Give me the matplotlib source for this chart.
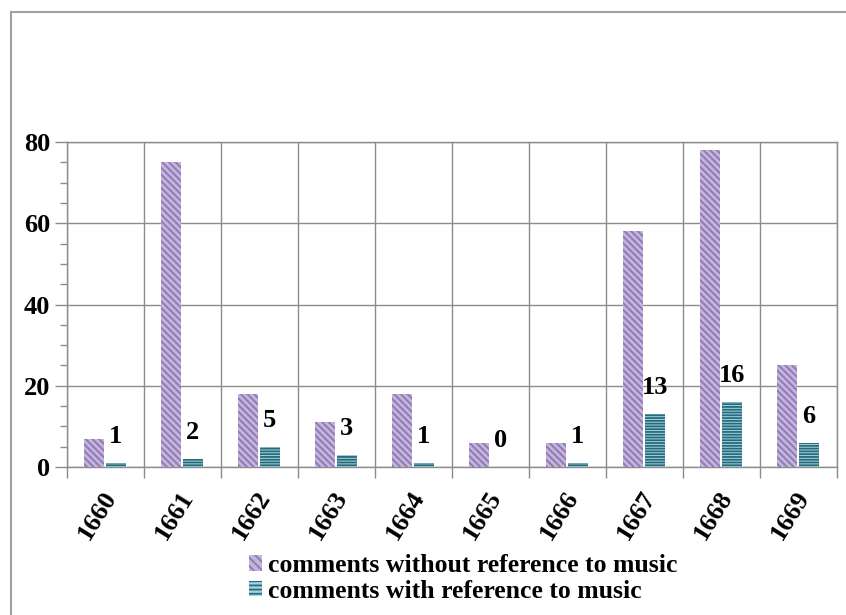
import matplotlib
matplotlib.use("Agg")
import matplotlib.pyplot as plt
from matplotlib.patches import Patch
from matplotlib.lines import Line2D
import matplotlib.transforms as mtrans
import numpy as np

years = ["1660", "1661", "1662", "1663", "1664", "1665", "1666", "1667", "1668", "1669"]
without_music = [7, 75, 18, 11, 18, 6, 6, 58, 78, 25]
with_music = [1, 2, 5, 3, 1, 0, 1, 13, 16, 6]
legend_labels = ["comments without reference to music", "comments with reference to music"]

plt.rcParams['font.family'] = ['Liberation Serif', 'DejaVu Serif']
plt.rcParams['font.weight'] = 'bold'
plt.rcParams['hatch.linewidth'] = 1.3

W, H = 846, 615
fig = plt.figure(figsize=(W / 100, H / 100), dpi=100)
# plot area: x 67..837, y 142..467 (pixels from top)
ax = fig.add_axes([67 / W, 1 - 467 / H, (837 - 67) / W, (467 - 142) / H])

x = np.arange(len(years))
purple_face = "#c4b3db"
purple_hatch = "#8d78b3"
teal_face = "#a9d3de"
teal_hatch = "#256b7e"
bw = 0.26
FS = 19

ax.bar(x - 0.155, without_music, width=bw, color=purple_face, edgecolor=purple_hatch,
       hatch="\\\\\\\\\\", linewidth=0, zorder=3)
ax.bar(x + 0.135, with_music, width=bw, color=teal_face, edgecolor=teal_hatch,
       hatch="------", linewidth=0, zorder=3)

for xi, v in zip(x, with_music):
    ax.annotate(str(v), (xi + 0.135, v), xytext=(0, 19), textcoords="offset points",
                ha="center", va="center", fontsize=FS, fontweight="bold", color="black")

ax.set_xlim(-0.5, len(years) - 0.5)
ax.set_ylim(0, 80)

grid_c = "#8c8c8c"
ax.set_yticks([0, 20, 40, 60, 80])
ax.set_yticks(np.arange(0, 81, 5), minor=True)
ax.set_yticklabels(["0", "20", "40", "60", "80"], fontsize=FS, fontweight="bold")
ax.tick_params(axis="y", which="major", length=9, color=grid_c, width=1, pad=3)
ax.tick_params(axis="y", which="minor", length=5, color=grid_c, width=1)
ax.yaxis.grid(True, which="major", color=grid_c, linewidth=1, zorder=0)

ax.set_xticks(np.arange(-0.5, len(years), 1.0))
ax.set_xticklabels([])
ax.set_xticks(x, minor=True)
ax.set_xticklabels(years, minor=True, rotation=58, ha="right", va="top",
                   rotation_mode="anchor", fontsize=FS, fontweight="bold")
ax.tick_params(axis="x", which="major", length=8, color=grid_c, width=1)
ax.tick_params(axis="x", which="minor", length=0, pad=14)
ax.xaxis.grid(True, which="major", color=grid_c, linewidth=1, zorder=0)
ax.set_axisbelow(True)

for s in ax.spines.values():
    s.set_color(grid_c)
    s.set_linewidth(1)

offset = mtrans.ScaledTranslation(-4 / 100, 0, fig.dpi_scale_trans)
for lbl in ax.get_xticklabels(minor=True):
    lbl.set_transform(lbl.get_transform() + offset)

handles = [Patch(facecolor=purple_face, edgecolor=purple_hatch, hatch="\\\\\\\\", linewidth=0),
           Patch(facecolor=teal_face, edgecolor=teal_hatch, hatch="----", linewidth=0)]
fig.legend(handles, legend_labels, loc="upper left", bbox_to_anchor=(249 / W, 1 - 554 / H),
           frameon=False, prop={"weight": "bold", "size": 18.5},
           handlelength=0.5, handleheight=0.55, handletextpad=0.25, labelspacing=0.1,
           borderpad=0, borderaxespad=0)

# outer border (left and top edges)
fig.add_artist(Line2D([11 / W, 11 / W], [0, 1 - 12 / H], transform=fig.transFigure,
                      color="#a0a0a0", linewidth=1.5))
fig.add_artist(Line2D([11 / W, 1], [1 - 12 / H, 1 - 12 / H], transform=fig.transFigure,
                      color="#a0a0a0", linewidth=1.5))

fig.savefig("out.png", dpi=100)
